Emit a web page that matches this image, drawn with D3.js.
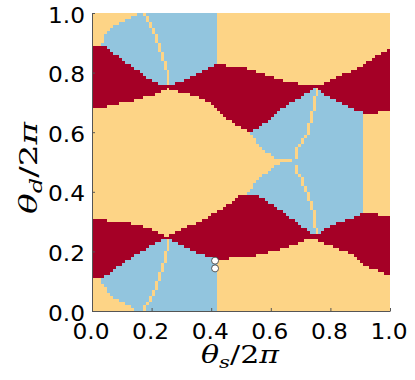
<!DOCTYPE html>
<html><head><meta charset="utf-8">
<script src="https://cdn.jsdelivr.net/npm/d3@7"></script>
<style>body{margin:0;background:#fff}svg{display:block}</style>
</head><body>
<script>
// ---- data ----
const NX = 100, NY = 100;
const categoryNames = ["orange", "red", "blue"];
const categoryColors = ["#fdd486", "#a50026", "#92c5de"];
const xTicks = [0, 0.2, 0.4, 0.6, 0.8, 1.0];
const yTicks = [0, 0.2, 0.4, 0.6, 0.8, 1.0];
const tickLabels = ["0.0", "0.2", "0.4", "0.6", "0.8", "1.0"];

// red band around theta_d ~ 0.25
const bandALower = [[0,0.106],[0.028,0.106],[0.045,0.115],[0.067,0.132],[0.089,0.149],[0.112,0.164],[0.128,0.173],[0.145,0.185],[0.168,0.199],[0.185,0.210],[0.201,0.221],[0.224,0.232],[0.241,0.238],[0.25,0.240],[0.263,0.239],[0.279,0.233],[0.302,0.221],[0.324,0.210],[0.347,0.199],[0.369,0.188],[0.391,0.182],[0.418,0.177],[0.418,0.171],[0.497,0.178],[0.553,0.185],[0.631,0.205],[0.688,0.225],[0.721,0.238],[0.75,0.240],[0.775,0.228],[0.832,0.205],[0.876,0.188],[0.923,0.148],[0.966,0.131],[0.990,0.117],[1,0.114]];
const bandAUpper = [[0,0.315],[0.054,0.315],[0.054,0.305],[0.094,0.305],[0.168,0.285],[0.195,0.276],[0.221,0.265],[0.235,0.257],[0.25,0.252],[0.265,0.256],[0.280,0.267],[0.319,0.283],[0.362,0.300],[0.418,0.334],[0.473,0.368],[0.497,0.392],[0.537,0.392],[0.56,0.385],[0.589,0.368],[0.617,0.349],[0.644,0.329],[0.666,0.312],[0.722,0.272],[0.75,0.252],[0.775,0.272],[0.832,0.299],[0.876,0.315],[0.912,0.329],[0.956,0.329],[0.956,0.322],[1,0.322]];
// red band around theta_d ~ 0.75
const bandBLower = [[0,0.680],[0.055,0.680],[0.055,0.688],[0.094,0.688],[0.094,0.697],[0.128,0.702],[0.167,0.713],[0.195,0.721],[0.222,0.728],[0.233,0.736],[0.245,0.744],[0.25,0.748],[0.262,0.746],[0.284,0.736],[0.318,0.728],[0.351,0.719],[0.379,0.708],[0.396,0.695],[0.413,0.680],[0.430,0.663],[0.452,0.647],[0.474,0.630],[0.502,0.613],[0.519,0.604],[0.541,0.602],[0.552,0.613],[0.569,0.624],[0.586,0.635],[0.603,0.652],[0.625,0.669],[0.648,0.686],[0.670,0.702],[0.681,0.708],[0.704,0.719],[0.720,0.730],[0.735,0.742],[0.75,0.748],[0.765,0.742],[0.782,0.725],[0.804,0.711],[0.832,0.697],[0.860,0.686],[0.883,0.675],[0.912,0.669],[0.912,0.664],[0.956,0.664],[0.956,0.671],[1,0.674]];
const bandBUpper = [[0,0.894],[0.034,0.894],[0.050,0.886],[0.067,0.869],[0.084,0.858],[0.106,0.841],[0.129,0.825],[0.151,0.808],[0.168,0.797],[0.190,0.780],[0.212,0.766],[0.235,0.760],[0.25,0.760],[0.268,0.760],[0.285,0.765],[0.308,0.774],[0.330,0.785],[0.352,0.796],[0.375,0.808],[0.391,0.819],[0.418,0.830],[0.45,0.831],[0.45,0.822],[0.508,0.820],[0.553,0.803],[0.592,0.792],[0.626,0.781],[0.664,0.769],[0.692,0.764],[0.726,0.760],[0.75,0.760],[0.776,0.762],[0.815,0.780],[0.843,0.797],[0.883,0.811],[0.916,0.831],[0.956,0.859],[0.978,0.870],[1,0.881]];

// blue / orange outlines
const blue1Edge = [[0.14,0],[0.134,0.012],[0.112,0.024],[0.089,0.034],[0.073,0.045],[0.061,0.056],[0.050,0.070],[0.039,0.087],[0.028,0.106]];
const blue2Edge = [[0.034,0.894],[0.039,0.919],[0.050,0.935],[0.067,0.948],[0.078,0.959],[0.095,0.968],[0.112,0.976],[0.134,0.988],[0.168,1.0]];
const blue3Notch = [[0.513,0.393],[0.530,0.406],[0.541,0.423],[0.553,0.440],[0.569,0.451],[0.581,0.462],[0.597,0.473],[0.631,0.497],[0.667,0.500],[0.667,0.509],[0.631,0.509],[0.614,0.515],[0.597,0.524],[0.581,0.535],[0.569,0.546],[0.558,0.557],[0.547,0.574],[0.536,0.585],[0.530,0.597],[0.530,0.605]];
const blueLeftRight = 0.418, blueRightEdge = 0.912;

// thin orange curves inside the blue regions
const line1 = [[0.252,0.245],[0.252,0.205],[0.244,0.188],[0.241,0.161],[0.235,0.143],[0.229,0.127],[0.224,0.110],[0.218,0.093],[0.213,0.076],[0.207,0.060],[0.199,0.043],[0.190,0.032],[0.181,0.020],[0.176,0.0]];
const line2 = [[0.252,0.755],[0.252,0.808],[0.244,0.813],[0.241,0.841],[0.235,0.858],[0.229,0.875],[0.224,0.891],[0.218,0.908],[0.213,0.925],[0.207,0.942],[0.201,0.953],[0.192,0.964],[0.184,0.976],[0.176,1.0]];
const line3 = [[0.681,0.515],[0.687,0.540],[0.693,0.551],[0.704,0.562],[0.709,0.579],[0.721,0.596],[0.726,0.613],[0.732,0.635],[0.737,0.658],[0.743,0.674],[0.748,0.691],[0.752,0.755]];
const line4 = [[0.681,0.485],[0.687,0.462],[0.698,0.451],[0.704,0.440],[0.709,0.423],[0.715,0.412],[0.721,0.395],[0.726,0.378],[0.732,0.361],[0.737,0.345],[0.743,0.328],[0.748,0.311],[0.752,0.245]];

const markerX = [0.413, 0.413];
const markerY = [0.169, 0.143];

// ---- build regions ----
const redPolys = [
  bandAUpper.concat(bandALower.slice().reverse()),
  bandBUpper.concat(bandBLower.slice().reverse())
];
const blue1 = blue1Edge.concat(
  bandALower.filter(p => p[0] > 0.028 && p[0] < blueLeftRight),
  [[blueLeftRight, 0.18], [blueLeftRight, 0]]);
const blue2 = bandBUpper.filter(p => p[0] >= 0.034 && p[0] < blueLeftRight).concat(
  [[blueLeftRight, 0.83], [blueLeftRight, 1]],
  blue2Edge.slice().reverse());
const blue3 = blue3Notch.concat(
  bandBLower.filter(p => p[0] > 0.53 && p[0] < blueRightEdge),
  [[blueRightEdge, 0.669], [blueRightEdge, 0.329]],
  bandAUpper.filter(p => p[0] > 0.513 && p[0] < blueRightEdge).reverse());
const bluePolys = [blue1, blue2, blue3];

const grid = [];
for (let j = 0; j < NY; j++) {
  const yc = (j + 0.5) / NY, row = [];
  for (let i = 0; i < NX; i++) {
    const p = [(i + 0.5) / NX, yc];
    let c = 0;
    if (redPolys.some(P => d3.polygonContains(P, p))) c = 1;
    else if (bluePolys.some(P => d3.polygonContains(P, p))) c = 2;
    row.push(c);
  }
  grid.push(row);
}
[line1, line2, line3, line4].forEach(L => {
  for (let j = 0; j < NY; j++) {
    const yc = (j + 0.5) / NY;
    for (let k = 0; k < L.length - 1; k++) {
      const a = L[k], b = L[k + 1];
      if (a[1] !== b[1] && (yc - a[1]) * (yc - b[1]) <= 0) {
        const t = (yc - a[1]) / (b[1] - a[1]);
        const i = Math.floor((a[0] + t * (b[0] - a[0])) * NX);
        if (grid[j][i] === 2) grid[j][i] = 0;
        break;
      }
    }
  }
});

// ---- draw ----
const svg = d3.select("body").append("svg").attr("width", 415).attr("height", 380);
const x = d3.scaleLinear().domain([0, 1]).range([92, 390]);
const y = d3.scaleLinear().domain([0, 1]).range([311, 13]);

const runs = [];
grid.forEach((row, j) => {
  let i = 0;
  while (i < NX) {
    let k = i;
    while (k < NX && row[k] === row[i]) k++;
    runs.push({i0: i, i1: k, j, c: row[i]});
    i = k;
  }
});
svg.append("g").selectAll("rect").data(runs).join("rect")
  .attr("x", d => x(d.i0 / NX))
  .attr("width", d => x(d.i1 / NX) - x(d.i0 / NX))
  .attr("y", d => y((d.j + 1) / NY))
  .attr("height", d => y(d.j / NY) - y((d.j + 1) / NY))
  .attr("fill", d => categoryColors[d.c])
  .attr("shape-rendering", "crispEdges");

// axes
const axisColor = "#555";
const gx = svg.append("g").attr("transform", "translate(0,311)")
  .call(d3.axisBottom(x).tickValues(xTicks).tickSizeInner(-3).tickSizeOuter(0).tickFormat((d, i) => tickLabels[i]));
const gy = svg.append("g").attr("transform", "translate(92,0)")
  .call(d3.axisLeft(y).tickValues(yTicks).tickSizeInner(-3).tickSizeOuter(0).tickFormat((d, i) => tickLabels[i]));
[gx, gy].forEach(g => {
  g.select(".domain").attr("stroke", axisColor).attr("stroke-width", 1);
  g.selectAll(".tick line").attr("stroke", axisColor);
  g.selectAll("text").attr("fill", "#000").attr("font-family", "DejaVu Sans").attr("font-size", 21)
    .attr("textLength", 37).attr("lengthAdjust", "spacingAndGlyphs");
});
gx.selectAll("text").attr("y", 27.5).attr("dy", 0).attr("dx", -1.5);
gy.selectAll("text").attr("x", -7).attr("dy", 0).attr("y", 9);

// axis labels
const xl = svg.append("text").attr("x", 240).attr("y", 363).attr("text-anchor", "middle")
  .attr("font-family", "DejaVu Serif").attr("font-size", 24)
  .attr("textLength", 78).attr("lengthAdjust", "spacingAndGlyphs");
xl.append("tspan").attr("font-style", "italic").text("θ");
xl.append("tspan").attr("font-style", "italic").attr("font-size", 17).attr("dy", 5).text("s");
xl.append("tspan").attr("dy", -5).text("/2");
xl.append("tspan").attr("font-style", "italic").text("π");

const yl = svg.append("text").attr("transform", "translate(37,168) rotate(-90)").attr("text-anchor", "middle")
  .attr("font-family", "DejaVu Serif").attr("font-size", 24)
  .attr("textLength", 92).attr("lengthAdjust", "spacingAndGlyphs");
yl.append("tspan").attr("font-style", "italic").text("θ");
yl.append("tspan").attr("font-style", "italic").attr("font-size", 17).attr("dy", 5).text("d");
yl.append("tspan").attr("dy", -5).text("/2");
yl.append("tspan").attr("font-style", "italic").text("π");

// markers
svg.append("g").selectAll("circle").data(markerX.map((v, i) => [v, markerY[i]])).join("circle")
  .attr("cx", d => x(d[0])).attr("cy", d => y(d[1])).attr("r", 3.5)
  .attr("fill", "#fff").attr("stroke", "#333").attr("stroke-width", 0.8);
</script>
</body></html>
